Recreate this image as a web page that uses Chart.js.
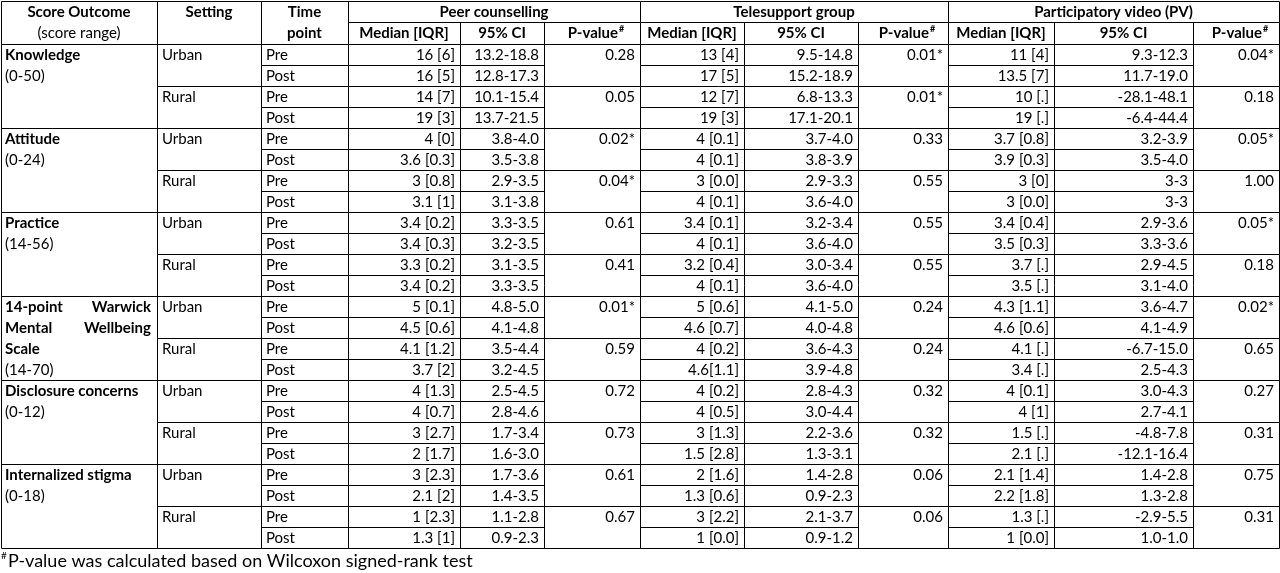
<!DOCTYPE html>
<html>
<head>
<meta charset="utf-8">
<script src="https://cdn.jsdelivr.net/npm/chart.js@4"></script>
<style>
  body { margin: 0; background: #fff; }
  #table { display: block; }
</style>
</head>
<body>
<canvas id="table" width="1280" height="573"></canvas>
<script>
const outcomes = [
    ['Knowledge', '(0-50)'],
    ['Attitude', '(0-24)'],
    ['Practice', '(14-56)'],
    ['14-point Warwick', 'Mental Wellbeing', 'Scale', '(14-70)'],
    ['Disclosure concerns', '(0-12)'],
    ['Internalized stigma', '(0-18)']
];
const settings = ['Urban', 'Rural'];
const timePoints = ['Pre', 'Post'];
const groups = ['Peer counselling', 'Telesupport group', 'Participatory video (PV)'];

const peerMed = ['16 [6]', '16 [5]', '14 [7]', '19 [3]', '4 [0]', '3.6 [0.3]', '3 [0.8]', '3.1 [1]', '3.4 [0.2]', '3.4 [0.3]', '3.3 [0.2]', '3.4 [0.2]', '5 [0.1]', '4.5 [0.6]', '4.1 [1.2]', '3.7 [2]', '4 [1.3]', '4 [0.7]', '3 [2.7]', '2 [1.7]', '3 [2.3]', '2.1 [2]', '1 [2.3]', '1.3 [1]'];
const peerCI = ['13.2-18.8', '12.8-17.3', '10.1-15.4', '13.7-21.5', '3.8-4.0', '3.5-3.8', '2.9-3.5', '3.1-3.8', '3.3-3.5', '3.2-3.5', '3.1-3.5', '3.3-3.5', '4.8-5.0', '4.1-4.8', '3.5-4.4', '3.2-4.5', '2.5-4.5', '2.8-4.6', '1.7-3.4', '1.6-3.0', '1.7-3.6', '1.4-3.5', '1.1-2.8', '0.9-2.3'];
const peerP = ['0.28', '0.05', '0.02*', '0.04*', '0.61', '0.41', '0.01*', '0.59', '0.72', '0.73', '0.61', '0.67'];

const teleMed = ['13 [4]', '17 [5]', '12 [7]', '19 [3]', '4 [0.1]', '4 [0.1]', '3 [0.0]', '4 [0.1]', '3.4 [0.1]', '4 [0.1]', '3.2 [0.4]', '4 [0.1]', '5 [0.6]', '4.6 [0.7]', '4 [0.2]', '4.6[1.1]', '4 [0.2]', '4 [0.5]', '3 [1.3]', '1.5 [2.8]', '2 [1.6]', '1.3 [0.6]', '3 [2.2]', '1 [0.0]'];
const teleCI = ['9.5-14.8', '15.2-18.9', '6.8-13.3', '17.1-20.1', '3.7-4.0', '3.8-3.9', '2.9-3.3', '3.6-4.0', '3.2-3.4', '3.6-4.0', '3.0-3.4', '3.6-4.0', '4.1-5.0', '4.0-4.8', '3.6-4.3', '3.9-4.8', '2.8-4.3', '3.0-4.4', '2.2-3.6', '1.3-3.1', '1.4-2.8', '0.9-2.3', '2.1-3.7', '0.9-1.2'];
const teleP = ['0.01*', '0.01*', '0.33', '0.55', '0.55', '0.55', '0.24', '0.24', '0.32', '0.32', '0.06', '0.06'];

const pvMed = ['11 [4]', '13.5 [7]', '10 [.]', '19 [.]', '3.7 [0.8]', '3.9 [0.3]', '3 [0]', '3 [0.0]', '3.4 [0.4]', '3.5 [0.3]', '3.7 [.]', '3.5 [.]', '4.3 [1.1]', '4.6 [0.6]', '4.1 [.]', '3.4 [.]', '4 [0.1]', '4 [1]', '1.5 [.]', '2.1 [.]', '2.1 [1.4]', '2.2 [1.8]', '1.3 [.]', '1 [0.0]'];
const pvCI = ['9.3-12.3', '11.7-19.0', '-28.1-48.1', '-6.4-44.4', '3.2-3.9', '3.5-4.0', '3-3', '3-3', '2.9-3.6', '3.3-3.6', '2.9-4.5', '3.1-4.0', '3.6-4.7', '4.1-4.9', '-6.7-15.0', '2.5-4.3', '3.0-4.3', '2.7-4.1', '-4.8-7.8', '-12.1-16.4', '1.4-2.8', '1.3-2.8', '-2.9-5.5', '1.0-1.0'];
const pvP = ['0.04*', '0.18', '0.05*', '1.00', '0.05*', '0.18', '0.02*', '0.65', '0.27', '0.31', '0.75', '0.31'];

const footnote = 'P-value was calculated based on Wilcoxon signed-rank test';

// column edges and row geometry, in canvas units
const colX = [1, 157, 261, 348, 460, 544, 640, 744, 858, 948, 1054, 1193, 1279];
const headTop = 1, headMid = 22, headBottom = 44, rowH = 21.0;
const FONT = 'Lato, "Open Sans", sans-serif';
const FS = 15;

const tablePlugin = {
    id: 'tableDraw',
    afterDraw(chart) {
        const ctx = chart.ctx;
        const xs = chart.scales.x, ys = chart.scales.y;
        const X = v => xs.getPixelForValue(v);
        const Y = v => ys.getPixelForValue(v);
        const rowTop = i => headBottom + i * rowH;
        const nRows = peerMed.length;
        const bottom = rowTop(nRows);

        ctx.save();
        ctx.strokeStyle = '#000';
        ctx.lineWidth = 1;
        function line(x1, y1, x2, y2) {
            ctx.beginPath();
            ctx.moveTo(Math.round(X(x1)) + 0.5, Math.round(Y(y1)) + 0.5);
            ctx.lineTo(Math.round(X(x2)) + 0.5, Math.round(Y(y2)) + 0.5);
            ctx.stroke();
        }
        line(colX[0], headTop, colX[12], headTop);
        line(colX[0], bottom, colX[12], bottom);
        line(colX[0], headBottom, colX[12], headBottom);
        line(colX[3], headMid, colX[12], headMid);
        colX.forEach((x, i) => {
            const top = (i === 4 || i === 5 || i === 7 || i === 8 || i === 10 || i === 11) ? headMid : headTop;
            line(x, top, x, bottom);
        });
        for (let i = 1; i < nRows; i++) {
            const y = rowTop(i);
            if (i % 4 === 0) {
                line(colX[0], y, colX[12], y);
            } else if (i % 2 === 0) {
                line(colX[1], y, colX[12], y);
            } else {
                line(colX[2], y, colX[5], y);
                line(colX[6], y, colX[8], y);
                line(colX[9], y, colX[11], y);
            }
        }

        ctx.fillStyle = '#000';
        ctx.textBaseline = 'middle';
        function text(s, x, y, align, bold, size) {
            ctx.font = (bold ? 'bold ' : '') + (size || FS) + 'px ' + FONT;
            ctx.textAlign = align;
            ctx.fillText(s, X(x), Y(y));
        }
        function pval(x, y) {
            ctx.font = 'bold ' + FS + 'px ' + FONT;
            ctx.textAlign = 'right';
            ctx.fillText('P-value', X(x) - 6, Y(y));
            ctx.font = 'bold 9px ' + FONT;
            ctx.textAlign = 'left';
            ctx.fillText('#', X(x) - 5, Y(y) - 4);
        }
        function justify(s, x1, x2, y) {
            ctx.font = 'bold ' + FS + 'px ' + FONT;
            ctx.textAlign = 'left';
            const words = s.split(' ');
            const total = words.reduce((a, w) => a + ctx.measureText(w).width, 0);
            const gap = (X(x2) - X(x1) - total) / (words.length - 1);
            let px = X(x1);
            words.forEach(w => {
                ctx.fillText(w, px, Y(y));
                px += ctx.measureText(w).width + gap;
            });
        }

        const h1 = (headTop + headMid) / 2 + 1, h2 = (headMid + headBottom) / 2;
        text('Score Outcome', (colX[0] + colX[1]) / 2, h1, 'center', true);
        text('(score range)', (colX[0] + colX[1]) / 2, h2, 'center', false);
        text('Setting', (colX[1] + colX[2]) / 2, h1, 'center', true);
        text('Time', (colX[2] + colX[3]) / 2, h1, 'center', true);
        text('point', (colX[2] + colX[3]) / 2, h2, 'center', true);
        groups.forEach((g, k) => {
            const c = 3 + k * 3;
            text(g, (colX[c] + colX[c + 3]) / 2, h1, 'center', true);
            text('Median [IQR]', (colX[c] + colX[c + 1]) / 2, h2, 'center', true);
            text('95% CI', (colX[c + 1] + colX[c + 2]) / 2, h2, 'center', true);
            pval((colX[c + 2] + colX[c + 3]) / 2 + 32, h2);
        });

        const meds = [peerMed, teleMed, pvMed];
        const cis = [peerCI, teleCI, pvCI];
        const ps = [peerP, teleP, pvP];
        for (let i = 0; i < nRows; i++) {
            const yc = rowTop(i) + rowH / 2 + 1;
            text(timePoints[i % 2], colX[2] + 5, yc, 'left', false);
            for (let k = 0; k < 3; k++) {
                const c = 3 + k * 3;
                text(meds[k][i], colX[c + 1] - 5, yc, 'right', false);
                text(cis[k][i], colX[c + 2] - 5, yc, 'right', false);
                if (i % 2 === 0) text(ps[k][i / 2], colX[c + 3] - 5, yc, 'right', false);
            }
            if (i % 2 === 0) text(settings[(i / 2) % 2], colX[1] + 5, yc, 'left', false);
            if (i % 4 === 0) {
                const lines = outcomes[i / 4];
                lines.forEach((l, j) => {
                    const y = yc + j * rowH;
                    const isRange = j === lines.length - 1;
                    if (lines.length > 2 && j < 2) {
                        justify(l, colX[0] + 4, colX[1] - 6, y);
                    } else {
                        text(l, colX[0] + 4, y, 'left', !isRange);
                    }
                });
            }
        }

        const fy = bottom + 13;
        ctx.font = '10px ' + FONT;
        ctx.textAlign = 'left';
        ctx.fillText('#', X(1), Y(fy) - 5);
        text(footnote, 8, fy, 'left', false, 18);
        ctx.restore();
    }
};

new Chart(document.getElementById('table'), {
    type: 'scatter',
    data: { datasets: [{ data: [], showLine: false }] },
    options: {
        responsive: false,
        animation: false,
        layout: { padding: 0 },
        plugins: { legend: { display: false }, tooltip: { enabled: false } },
        scales: {
            x: { type: 'linear', min: 0, max: 1280, display: false },
            y: { type: 'linear', min: 0, max: 573, reverse: true, display: false }
        }
    },
    plugins: [tablePlugin]
});
</script>
</body>
</html>
